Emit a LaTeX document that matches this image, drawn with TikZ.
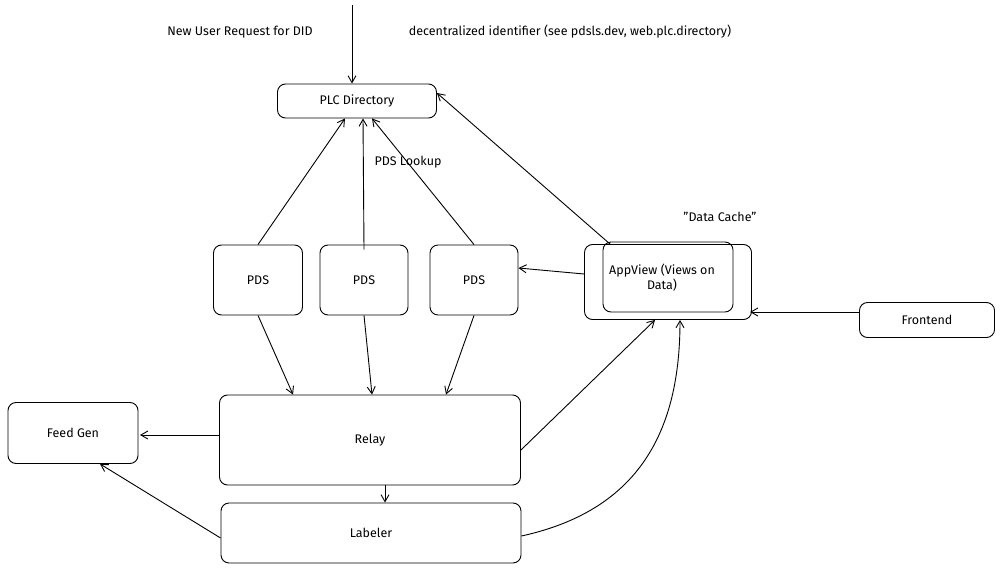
\documentclass[tikz,border=0pt]{standalone}
\usepackage{fontspec}
\setmainfont{Fira Sans}
\usetikzlibrary{arrows.meta}
\begin{document}
\begin{tikzpicture}[x=1pt,y=-1pt,
  box/.style={draw, rounded corners=8pt, line width=0.9pt, font=\fontsize{12.5}{15}\selectfont, align=center},
  lbl/.style={font=\fontsize{12.5}{15}\selectfont, inner sep=1pt},
  arr/.style={-{Straight Barb[length=7pt,width=8pt]}, line width=0.9pt}]
	% frame
	\useasboundingbox (0,0) rectangle (1000,572);

	% boxes
	\node[box, minimum width=159pt, minimum height=34pt] (plc) at (357,101) {PLC Directory};
	\node[box, minimum width=89pt, minimum height=70pt] (pdsa) at (258,280) {PDS};
	\node[box, minimum width=88pt, minimum height=70pt] (pdsb) at (364,280) {PDS};
	\node[box, minimum width=88pt, minimum height=70pt] (pdsc) at (474,280) {PDS};
	\node[box, minimum width=167pt, minimum height=75pt] (app) at (668,282) {};
	\draw[rounded corners=8pt, line width=0.9pt] (603,242) rectangle (733,312);
	\node[lbl, align=center] (apptxt) at (662,278) {AppView (Views on\\Data)};
	\node[box, minimum width=135pt, minimum height=35pt] (front) at (927,320) {Frontend};
	\node[box, minimum width=301pt, minimum height=90pt] (relay) at (370,440) {Relay};
	\node[box, minimum width=130pt, minimum height=61pt] (feed) at (73,433) {Feed Gen};
	\node[box, minimum width=300pt, minimum height=60pt] (lab) at (371,533) {Labeler};

	% labels
	\node[lbl] (req) at (240,32) {New User Request for DID};
	\node[lbl] (did) at (570,32) {decentralized identifier (see pdsls.dev, web.plc.directory)};
	\node[lbl] (look) at (408,162) {PDS Lookup};
	\node[lbl] (cache) at (720,217) {"Data Cache"};
	\coordinate (top) at (352,5);
	\coordinate (feedin) at (140,435);
	\coordinate (appin) at (750,312);

	% connectors
	\draw[arr] (top) -- (plc.north -| top);
	\draw[arr] (pdsa.north) -- ([xshift=-12pt]plc.south);
	\draw[arr] ([yshift=-5pt]pdsb.north) -- ([xshift=6pt]plc.south);
	\draw[arr] (pdsc.north) -- ([xshift=15pt]plc.south);
	\draw[arr] ([xshift=-58pt]app.north) -- ([yshift=8pt]plc.east);
	\draw[arr] ([yshift=8pt]app.west) -- ([yshift=12pt]pdsc.east);
	\draw[arr] (front.west |- appin) -- (appin);
	\draw[arr] (pdsa.south) -- ([xshift=-77pt]relay.north);
	\draw[arr] (pdsb.south) -- ([xshift=2pt]relay.north);
	\draw[arr] (pdsc.south) -- ([xshift=76pt]relay.north);
	\draw[arr] ([yshift=-10pt]relay.east) -- ([xshift=-13pt]app.south);
	\draw[arr] ([yshift=-3pt]lab.east) .. controls (640,510) and (680,430) .. ([xshift=12pt]app.south);
	\draw[arr] (relay.west |- feedin) -- (feedin);
	\draw[arr] ([yshift=-5pt]lab.west) -- ([xshift=27pt]feed.south);
	\draw[arr] ([xshift=15pt]relay.south) -- ([xshift=14pt]lab.north);
\end{tikzpicture}
\end{document}
